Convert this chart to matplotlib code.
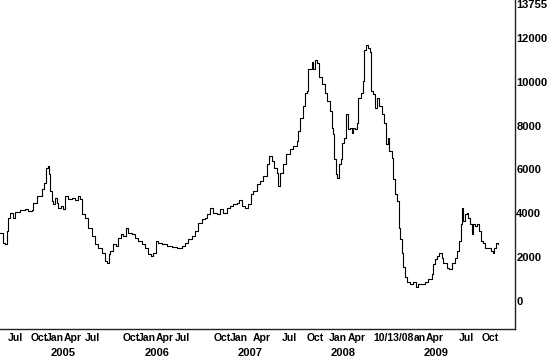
import matplotlib
matplotlib.use('Agg')
import matplotlib.pyplot as plt
import matplotlib.transforms as mtransforms

plt.rcParams['font.family'] = ['Liberation Sans', 'DejaVu Sans']

# decimal year of each weekly observation
dates = [
    2004.332, 2004.364, 2004.386, 2004.407, 2004.418, 2004.440, 2004.472, 2004.494,
    2004.548, 2004.601, 2004.634, 2004.677, 2004.688, 2004.731, 2004.785, 2004.806,
    2004.828, 2004.849, 2004.860, 2004.871, 2004.892, 2004.903, 2004.925, 2004.946,
    2004.957, 2004.989, 2005.011, 2005.032, 2005.065, 2005.108, 2005.140, 2005.173,
    2005.194, 2005.216, 2005.248, 2005.280, 2005.323, 2005.356, 2005.388, 2005.431,
    2005.463, 2005.485, 2005.507, 2005.517, 2005.550, 2005.582, 2005.604, 2005.636,
    2005.657, 2005.690, 2005.711, 2005.754, 2005.787, 2005.819, 2005.862, 2005.894,
    2005.927, 2005.959, 2005.981, 2006.013, 2006.035, 2006.078, 2006.132, 2006.185,
    2006.239, 2006.293, 2006.326, 2006.358, 2006.401, 2006.433, 2006.466, 2006.509,
    2006.541, 2006.563, 2006.595, 2006.627, 2006.670, 2006.703, 2006.735, 2006.778,
    2006.810, 2006.843, 2006.886, 2006.907, 2006.940, 2006.972, 2007.004, 2007.037,
    2007.058, 2007.101, 2007.134, 2007.166, 2007.209, 2007.231, 2007.263, 2007.285,
    2007.317, 2007.328, 2007.349, 2007.382, 2007.414, 2007.457, 2007.489, 2007.532,
    2007.543, 2007.565, 2007.597, 2007.619, 2007.640, 2007.651, 2007.694, 2007.705,
    2007.727, 2007.748, 2007.770, 2007.802, 2007.834, 2007.856, 2007.888, 2007.910,
    2007.920, 2007.931, 2007.953, 2007.964, 2007.985, 2008.007, 2008.018, 2008.039,
    2008.061, 2008.082, 2008.104, 2008.125, 2008.136, 2008.158, 2008.179, 2008.190,
    2008.222, 2008.244, 2008.254, 2008.276, 2008.298, 2008.319, 2008.330, 2008.351,
    2008.373, 2008.394, 2008.416, 2008.448, 2008.470, 2008.491, 2008.513, 2008.524,
    2008.556, 2008.567, 2008.588, 2008.610, 2008.632, 2008.642, 2008.664, 2008.675,
    2008.696, 2008.718, 2008.750, 2008.783, 2008.815, 2008.836, 2008.879, 2008.912,
    2008.944, 2008.987, 2008.998, 2009.020, 2009.041, 2009.063, 2009.095, 2009.106,
    2009.149, 2009.171, 2009.203, 2009.235, 2009.257, 2009.278, 2009.300, 2009.311,
    2009.322, 2009.343, 2009.365, 2009.376, 2009.397, 2009.419, 2009.430, 2009.451,
    2009.473, 2009.494, 2009.516, 2009.537, 2009.559, 2009.591, 2009.623, 2009.645,
    2009.656, 2009.677, 2009.699,
]
values = [
    3080, 2620, 2575, 3170, 3770, 4000, 3770, 4050,
    4140, 4180, 4090, 4140, 4460, 4780, 5100, 5380,
    6070, 6160, 5790, 5010, 4550, 4410, 4690, 4460,
    4230, 4320, 4180, 4780, 4640, 4690, 4600, 4780,
    4640, 3950, 3770, 3310, 2940, 2575, 2390, 2160,
    1790, 1700, 2115, 2250, 2575, 2480, 2850, 3030,
    2940, 3310, 3080, 3030, 2850, 2710, 2575, 2390,
    2115, 2020, 2160, 2710, 2620, 2575, 2480, 2440,
    2390, 2480, 2620, 2800, 2940, 3170, 3540, 3720,
    3770, 3950, 4230, 4000, 3950, 4180, 4000, 4230,
    4320, 4410, 4460, 4600, 4320, 4230, 4410, 4870,
    5010, 5330, 5470, 5700, 6250, 6620, 6390, 6070,
    5840, 5240, 5840, 6250, 6710, 6940, 7080, 7310,
    7770, 8370, 8900, 9500, 9610, 10620, 10900, 10620,
    10990, 10850, 10210, 9930, 9520, 9150, 8690, 7910,
    7630, 6480, 5790, 5610, 6250, 6480, 7220, 7450,
    8550, 7860, 7910, 7680, 7910, 7860, 8140, 9290,
    9520, 10070, 11450, 11680, 11540, 11360, 9610, 9470,
    8830, 9290, 8920, 8550, 8140, 7170, 7450, 6850,
    6530, 5560, 4870, 4550, 3310, 2800, 2160, 1550,
    1100, 870, 780, 830, 640, 780, 740, 870,
    970, 1200, 1660, 1890, 2020, 2160, 1930, 1700,
    1470, 1430, 1700, 1930, 2250, 2710, 3490, 4230,
    3630, 3950, 4000, 3770, 3490, 3030, 3490, 3400,
    3490, 3170, 2710, 2620, 2390, 2390, 2250, 2160,
    2390, 2620, 2575,
]

month_pos = [2004.494, 2004.752, 2004.925, 2005.119, 2005.323, 2005.744, 2005.916,
             2006.110, 2006.304, 2006.724, 2006.908, 2007.155, 2007.457, 2007.726,
             2007.975, 2008.180, 2008.578, 2008.853, 2009.020, 2009.364, 2009.612]
month_labels = ['Jul', 'Oct', 'Jan', 'Apr', 'Jul', 'Oct', 'Jan', 'Apr', 'Jul', 'Oct',
                'Jan', 'Apr', 'Jul', 'Oct', 'Jan', 'Apr', '10/13/08', 'an', 'Apr',
                'Jul', 'Oct']
year_pos = [2005.011, 2006.024, 2007.026, 2008.028, 2009.030]
year_labels = ['2005', '2006', '2007', '2008', '2009']
y_ticks = [0, 2000, 4000, 6000, 8000, 10000, 12000, 13755]

fig = plt.figure(figsize=(5.5, 3.58), dpi=100)
fig.patch.set_facecolor('white')
ax = fig.add_axes([0.0, 0.081, 0.936, 0.919])

ax.plot(dates, values, color='black', lw=0.8, drawstyle='steps-post')

ax.set_xlim(2004.332, 2009.882)
ax.set_ylim(-1300, 13755)

for s in ['top', 'left']:
    ax.spines[s].set_visible(False)
for s in ['right', 'bottom']:
    ax.spines[s].set_color('#222222')
    ax.spines[s].set_linewidth(1.0)

ax.yaxis.tick_right()
ax.set_yticks(y_ticks)
ax.set_yticklabels([str(v) for v in y_ticks])
ax.tick_params(axis='y', length=0, pad=1, labelsize=8)
for lbl in ax.get_yticklabels():
    lbl.set_fontweight('bold')
    lbl.set_horizontalalignment('left')
ax.get_yticklabels()[-1].set_verticalalignment('top')

ax.set_xticks(month_pos)
ax.set_xticklabels(month_labels)
ax.tick_params(axis='x', length=0, pad=3, labelsize=7.5)
for lbl in ax.get_xticklabels():
    lbl.set_fontweight('bold')

trans = mtransforms.blended_transform_factory(ax.transData, ax.transAxes)
for xp, yl in zip(year_pos, year_labels):
    ax.text(xp, -0.073, yl, transform=trans, ha='center', va='center',
            fontsize=8, fontweight='bold')

fig.savefig('out.png', dpi=100, facecolor='white')
